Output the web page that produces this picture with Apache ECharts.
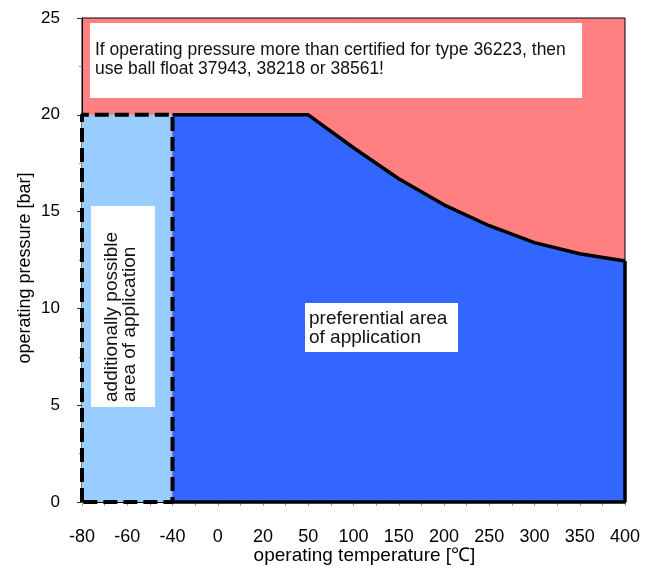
<!DOCTYPE html>
<html>
<head>
<meta charset="utf-8">
<script src="https://cdn.jsdelivr.net/npm/echarts@6/dist/echarts.min.js"></script>
<style>html,body{margin:0;padding:0;background:#fff;}#c{width:655px;height:569px;}</style>
</head>
<body>
<div id="c"></div>
<script>
var tempLabels = ['-80','-60','-40','0','20','50','100','150','200','250','300','350','400'];
var curveIdx = [2, 3, 4, 5, 6, 7, 8, 9, 10, 11, 12];
var curvePressure = [20, 20, 20, 20, 18.3, 16.7, 15.35, 14.27, 13.4, 12.82, 12.45];
var boxIdx = [0, 2];
var boxPressure = 20;
var yTicks = [0, 5, 10, 15, 20, 25];

var curve = curveIdx.map(function (x, i) { return [x, curvePressure[i]]; });
var last = curve[curve.length - 1];
var font = 'Liberation Sans, Arial, sans-serif';

var chart = echarts.init(document.getElementById('c'));
chart.setOption({
  animation: false,
  grid: { left: 82, right: 30, top: 18, bottom: 67, outerBoundsMode: 'none', containLabel: false,
    show: true, backgroundColor: '#FF8080', borderColor: '#000', borderWidth: 1 },
  xAxis: {
    type: 'value', min: 0, max: tempLabels.length - 1, interval: 1,
    name: 'operating temperature [\u2103]', nameLocation: 'middle', nameGap: 44, nameMoveOverlap: false,
    nameTextStyle: { fontFamily: font, fontSize: 19, color: '#000', padding: [0, 0, 0, 22] },
    axisLine: { show: true, lineStyle: { color: '#000', width: 1 } },
    axisTick: { show: true, length: 4, lineStyle: { color: '#999' } },
    minorTick: { show: true, splitNumber: 2, length: 4, lineStyle: { color: '#999' } },
    splitLine: { show: false }, minorSplitLine: { show: false },
    axisLabel: { fontFamily: font, fontSize: 18, color: '#000', margin: 26,
      formatter: function (v) { return tempLabels[v] !== undefined ? tempLabels[v] : ''; } }
  },
  yAxis: {
    type: 'value', min: yTicks[0], max: yTicks[yTicks.length - 1], interval: 5,
    name: 'operating pressure [bar]', nameLocation: 'middle', nameGap: 48, nameMoveOverlap: false,
    nameTextStyle: { fontFamily: font, fontSize: 18, color: '#000', padding: [0, 16, 0, 0] },
    axisLine: { show: true, lineStyle: { color: '#000', width: 1 } },
    axisTick: { show: true, length: 5, lineStyle: { color: '#333' } },
    minorTick: { show: true, splitNumber: 2, length: 3, lineStyle: { color: '#999' } },
    splitLine: { show: false }, minorSplitLine: { show: false },
    axisLabel: { fontFamily: font, fontSize: 17, color: '#000', margin: 22 }
  },
  series: [
    { type: 'line', data: boxIdx.map(function (x) { return [x, boxPressure]; }), symbol: 'none',
      lineStyle: { width: 0 }, areaStyle: { color: '#99CCFF', opacity: 1 }, z: 1 },
    { type: 'line', data: curve, symbol: 'none', clip: false,
      lineStyle: { color: '#000', width: 3.5 }, areaStyle: { color: '#3366FF', opacity: 1 }, z: 2 },
    { type: 'line', data: [[curveIdx[0], 0], [last[0], 0], [last[0], last[1]]], symbol: 'none', clip: false,
      lineStyle: { color: '#000', width: 3.5 }, z: 3 },
    { type: 'line', data: [[boxIdx[0], 0], [boxIdx[0], boxPressure], [boxIdx[1], boxPressure], [boxIdx[1], 0], [boxIdx[0], 0]],
      symbol: 'none', clip: false,
      lineStyle: { color: '#000', width: 4, type: [14, 6] }, z: 4 }
  ],
  graphic: [
    { type: 'rect', shape: { x: 90, y: 23, width: 492, height: 75 }, style: { fill: '#fff' }, z: 100 },
    { type: 'text', x: 95, y: 41, style: { text: 'If operating pressure more than certified for type 36223, then\nuse ball float 37943, 38218 or 38561!',
      font: '17.5px ' + font, fill: '#111', lineHeight: 19 }, z: 101 },
    { type: 'rect', shape: { x: 305, y: 303, width: 153, height: 49 }, style: { fill: '#fff' }, z: 100 },
    { type: 'text', x: 309, y: 310, style: { text: 'preferential area\nof application', font: '19px ' + font, fill: '#111', lineHeight: 18.5 }, z: 101 },
    { type: 'rect', shape: { x: 91, y: 206, width: 64, height: 201 }, style: { fill: '#fff' }, z: 100 },
    { type: 'text', x: 121, y: 402, rotation: Math.PI / 2,
      style: { text: 'additionally possible\narea of application', font: '19px ' + font, fill: '#111', lineHeight: 18.5,
        align: 'left', verticalAlign: 'middle' }, z: 101 }
  ]
});
</script>
</body>
</html>
